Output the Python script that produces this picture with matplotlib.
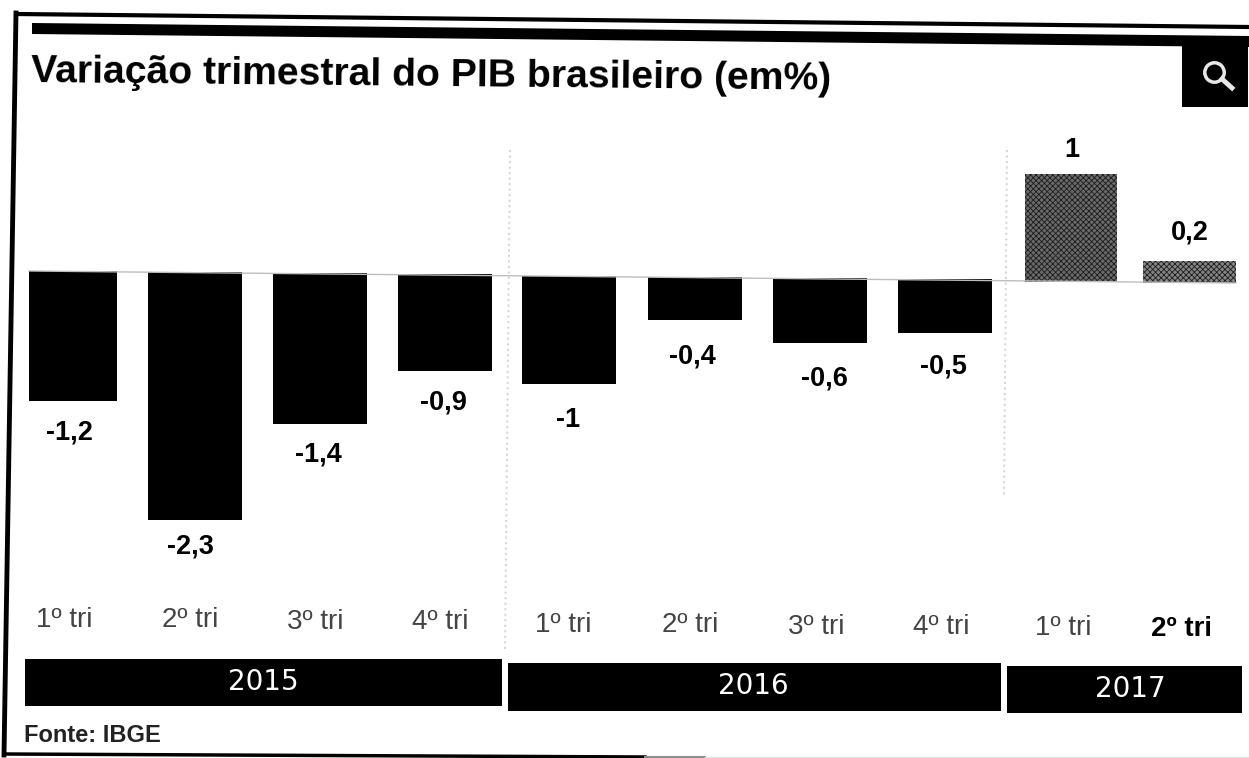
#!/usr/bin/python3
# -*- coding: utf-8 -*-

import matplotlib
matplotlib.use('Agg')
import matplotlib.pyplot as pl
from matplotlib.patches import Polygon, Rectangle

quarters = ['1º tri', '2º tri', '3º tri', '4º tri', '1º tri', '2º tri',
            '3º tri', '4º tri', '1º tri', '2º tri']
values = [-1.2, -2.3, -1.4, -0.9, -1, -0.4, -0.6, -0.5, 1, 0.2]
value_labels = ['-1,2', '-2,3', '-1,4', '-0,9', '-1', '-0,4', '-0,6', '-0,5', '1', '0,2']
years = ['2015', '2016', '2017']
title = 'Variação trimestral do PIB brasileiro (em%)'
source = 'Fonte: IBGE'

W, H = 1249, 758


def draw_frame(bg):
    # The scan is slightly rotated, so none of the rules are quite level.
    bg.plot([16, 1249], [14, 27], color='black', lw=3)
    bg.plot([16, 4], [13, 755], color='black', lw=3.5)
    bg.plot([4, 645], [754, 757], color='black', lw=2.5)
    bg.plot([645, 705], [757, 757], color='#8c8c8c', lw=1.5)
    bg.plot([705, 1249], [757, 757], color='#e4e4e4', lw=1)
    bg.add_patch(Polygon([(32, 23), (1249, 36), (1249, 47), (32, 34)], color='black', lw=0))

    # search button
    bg.add_patch(Rectangle((1182, 36), 66, 71, color='black', lw=0))
    bg.plot([1214], [72], marker='o', ms=14, mfc='none', mec='#e8e8e8', mew=2.5)
    bg.plot([1222, 1232], [79, 88], color='#e8e8e8', lw=3.5)


def draw_years(bg):
    bands = [(25, 659, 477, 47), (508, 663, 493, 48), (1007, 666, 235, 47)]
    text_xs = [263, 753, 1130]
    text_ys = [682, 686, 689]
    for (x, y, w, h), tx, ty, year in zip(bands, text_xs, text_ys, years):
        bg.add_patch(Rectangle((x, y), w, h, color='black', lw=0))
        bg.text(tx, ty, year, color='white', fontsize=20, ha='center', va='center',
                fontfamily=['DejaVu Sans'])

    # dotted year separators
    bg.plot([510, 505], [150, 650], color='#d6d6d6', lw=1.5, ls=':')
    bg.plot([1007, 1004], [150, 495], color='#d6d6d6', lw=1.5, ls=':')


def draw_bars(ax):
    lefts = [29, 148, 273, 398, 522, 648, 773, 898, 1025, 1143]
    rights = [117, 242, 367, 492, 616, 742, 867, 992, 1117, 1236]
    bases = [271, 272, 273, 274, 276, 277, 278, 279, 281.5, 283]
    scale = 108

    ax.plot([29, 1236], [271, 283], color='#bdbdbd', lw=1)
    pl.rcParams['hatch.linewidth'] = 0.6
    for i, v in enumerate(values):
        style = {'color': 'black'}
        if v > 0:
            # halftoned bars in the scan
            face = '#6a6a6a' if i == 8 else '#858585'
            style = {'facecolor': face, 'edgecolor': '#1c1c1c', 'hatch': 'xxxxxx', 'lw': 0}
        ax.bar(lefts[i], -v * scale, width=rights[i] - lefts[i], bottom=bases[i],
               align='edge', **style)

    label_xs = [69, 190, 318, 443, 568, 692, 824, 943, 1072, 1190]
    label_ys = [432, 546, 455, 403, 420, 356, 378, 367, 150, 232]
    for x, y, text in zip(label_xs, label_ys, value_labels):
        ax.text(x, y, text, fontsize=19.5, fontweight='bold', ha='center', va='center')

    tick_xs = [64, 190, 315, 440, 563, 690, 816, 941, 1063, 1182]
    tick_ys = [620, 620, 622, 622, 625, 625, 627, 627, 628, 629]
    for i, (x, y, text) in enumerate(zip(tick_xs, tick_ys, quarters)):
        last = i == len(quarters) - 1
        ax.text(x, y, text, fontsize=20, ha='center', va='center',
                color='black' if last else '#444444',
                fontweight='bold' if last else 'normal')


def main():
    pl.rcParams['font.family'] = ['Liberation Sans', 'DejaVu Sans']
    fig = pl.figure(figsize=(W / 100, H / 100), dpi=100)

    bg = fig.add_axes([0, 0, 1, 1])
    bg.set_xlim(0, W)
    bg.set_ylim(H, 0)
    bg.axis('off')
    draw_frame(bg)
    draw_years(bg)
    bg.text(31, 72, title, fontsize=28.2, fontweight='bold', va='center', ha='left',
            rotation=-0.55, rotation_mode='anchor')
    bg.text(24, 735, source, fontsize=17, fontweight='bold', va='center', ha='left',
            color='#222222')

    ax = fig.add_axes([0, 0, 1, 1], facecolor='none')
    ax.set_xlim(0, W)
    ax.set_ylim(H, 0)
    ax.axis('off')
    draw_bars(ax)

    fig.savefig('out.png', dpi=100)


if __name__ == '__main__':
    main()
